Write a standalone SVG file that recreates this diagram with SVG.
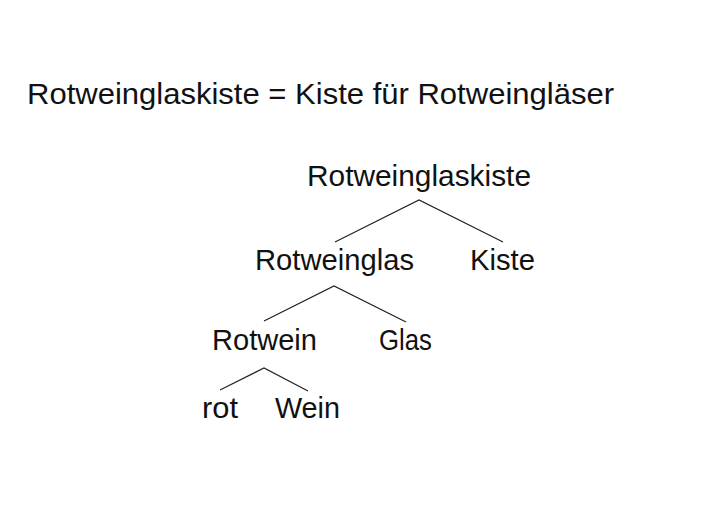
<svg xmlns="http://www.w3.org/2000/svg" width="703" height="527" viewBox="0 0 703 527">
<style>
text{font-family:"Liberation Sans",Arial,sans-serif;font-size:30px;fill:#111}
.e{stroke:#222;stroke-width:1.2;fill:none}
</style>
<rect width="703" height="527" fill="#fff"/>
<text id="title" x="27" y="104" textLength="587" lengthAdjust="spacingAndGlyphs">Rotweinglaskiste = Kiste für Rotweingläser</text>
<g id="connectors">
<path class="e" d="M335 242L419 200L503 242"/>
<path class="e" d="M264 321L334 286L406 322"/>
<path class="e" d="M220 390L264 368L308 391"/>
</g>
<g id="n-root"><text x="307" y="186" textLength="224" lengthAdjust="spacingAndGlyphs">Rotweinglaskiste</text></g>
<g id="n-rotweinglas"><text x="255" y="270" textLength="159" lengthAdjust="spacingAndGlyphs">Rotweinglas</text></g>
<g id="n-kiste"><text x="470" y="270" textLength="65" lengthAdjust="spacingAndGlyphs">Kiste</text></g>
<g id="n-rotwein"><text x="212" y="350" textLength="105" lengthAdjust="spacingAndGlyphs">Rotwein</text></g>
<g id="n-glas"><text x="379" y="350" textLength="53" lengthAdjust="spacingAndGlyphs">Glas</text></g>
<g id="n-rot"><text x="202" y="418" textLength="36" lengthAdjust="spacingAndGlyphs">rot</text></g>
<g id="n-wein"><text x="275" y="418" textLength="65" lengthAdjust="spacingAndGlyphs">Wein</text></g>
</svg>
